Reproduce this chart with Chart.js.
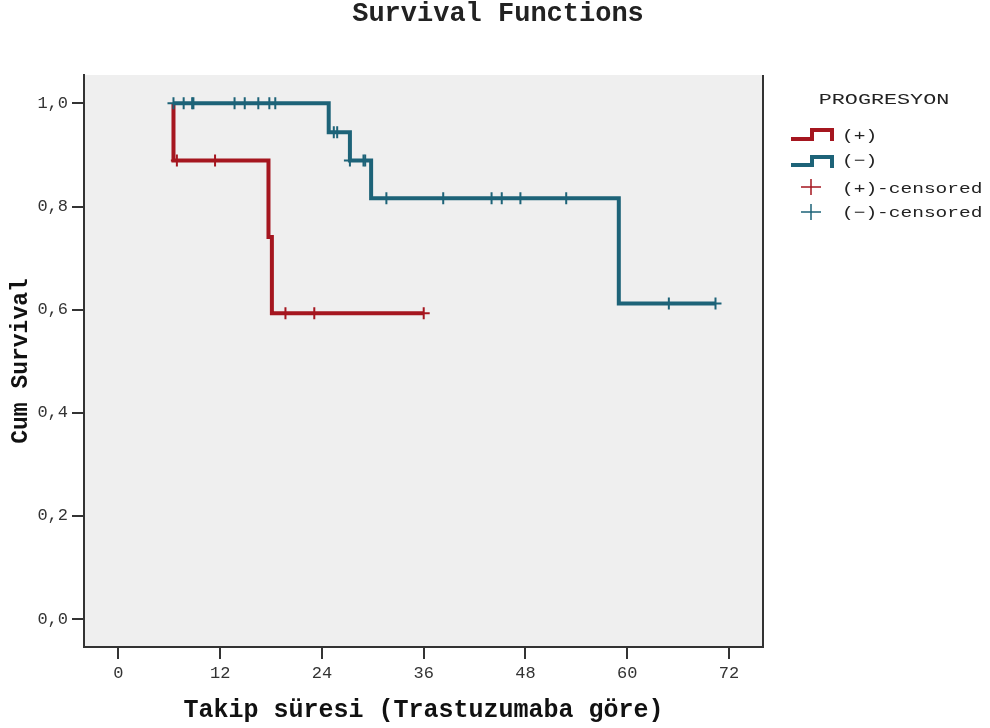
<!DOCTYPE html>
<html>
<head>
<meta charset="utf-8">
<script src="https://cdn.jsdelivr.net/npm/chart.js@4"></script>
<style>
  html, body { margin: 0; padding: 0; background: #fff; }
  #wrap { width: 990px; height: 728px; position: relative; }
</style>
</head>
<body>
<div id="wrap"><canvas id="km"></canvas></div>
<script>
// Kaplan-Meier steps, PROGRESYON (+)
const redStepTimes = [6.5, 6.5, 17.7, 18.1, 36.0];
const redStepSurv = [1.0, 0.889, 0.741, 0.593, 0.593];
const redCensTimes = [6.9, 11.4, 19.7, 23.1, 36.0];
const redCensSurv = [0.889, 0.889, 0.593, 0.593, 0.593];

// PROGRESYON (-)
const blueStepTimes = [6.5, 24.8, 27.3, 29.8, 59.0, 70.4];
const blueStepSurv = [1.0, 0.944, 0.889, 0.816, 0.612, 0.612];
const blueCensTimes = [6.5, 7.7, 8.7, 8.85, 13.7, 14.9, 16.5, 17.8, 18.5, 25.4, 25.8, 27.3, 28.9, 29.1,
  31.6, 38.3, 44.0, 45.2, 47.4, 52.8, 64.9, 70.4];
const blueCensSurv = [1.0, 1.0, 1.0, 1.0, 1.0, 1.0, 1.0, 1.0, 1.0, 0.944, 0.944, 0.889, 0.889, 0.889,
  0.816, 0.816, 0.816, 0.816, 0.816, 0.816, 0.612, 0.612];

const xTicks = [0, 12, 24, 36, 48, 60, 72];
const yTicks = [0, 0.2, 0.4, 0.6, 0.8, 1.0];
const yTickLabels = ['0,0', '0,2', '0,4', '0,6', '0,8', '1,0'];

const legendTitle = 'PROGRESYON';
const legendNames = ['(+)', '(\u2212)', '(+)-censored', '(\u2212)-censored'];

const RED = '#a5161f';
const BLUE = '#1d6378';
const MONO = '"Liberation Mono", "DejaVu Sans Mono", monospace';

const toPts = (xs, ys) => xs.map((x, i) => ({ x: x, y: ys[i] }));

// wide text, like the old SPSS raster fonts
function wideText(ctx, text, x, y, font, sx, align) {
  ctx.save();
  ctx.font = font;
  ctx.fillStyle = '#222';
  ctx.textBaseline = 'middle';
  ctx.textAlign = align;
  ctx.translate(x, y);
  ctx.scale(sx, 1);
  ctx.fillText(text, 0, 0);
  ctx.restore();
}

const framePlugin = {
  id: 'frame',
  beforeDraw(chart) {
    const { ctx, chartArea: a } = chart;
    ctx.save();
    ctx.fillStyle = '#efefef';
    ctx.fillRect(a.left, a.top, a.right - a.left, a.bottom - a.top);
    ctx.strokeStyle = '#333';
    ctx.lineWidth = 2;
    ctx.beginPath();
    ctx.moveTo(a.right, a.top);
    ctx.lineTo(a.right, a.bottom);
    ctx.stroke();
    ctx.restore();
  },
  afterDraw(chart) {
    const ctx = chart.ctx;
    wideText(ctx, 'Survival Functions', 498, 14, 'bold 27px ' + MONO, 1.0, 'center');

    // legend
    wideText(ctx, legendTitle, 884, 100, '15px ' + MONO, 1.45, 'center');
    const steps = [[RED, 139, 130], [BLUE, 165, 157]];
    ctx.save();
    ctx.lineWidth = 4;
    ctx.lineJoin = 'miter';
    steps.forEach(([c, lo, hi]) => {
      ctx.strokeStyle = c;
      ctx.beginPath();
      ctx.moveTo(791, lo);
      ctx.lineTo(812, lo);
      ctx.lineTo(812, hi);
      ctx.lineTo(832, hi);
      ctx.lineTo(832, hi + 11);
      ctx.stroke();
    });
    ctx.lineWidth = 1.5;
    [[RED, 187], [BLUE, 212]].forEach(([c, cy]) => {
      ctx.strokeStyle = c;
      ctx.beginPath();
      ctx.moveTo(801, cy);
      ctx.lineTo(821, cy);
      ctx.moveTo(811, cy - 8);
      ctx.lineTo(811, cy + 8);
      ctx.stroke();
    });
    ctx.restore();
    const ys = [136, 161, 189, 213];
    legendNames.forEach((t, i) => wideText(ctx, t, 842, ys[i], '15px ' + MONO, 1.3, 'left'));
  }
};

new Chart(document.getElementById('km'), {
  type: 'line',
  data: {
    datasets: [
      {
        label: '(-)', data: toPts(blueStepTimes, blueStepSurv), stepped: 'before',
        borderColor: BLUE, borderWidth: 4, pointRadius: 0, fill: false,
        borderJoinStyle: 'miter', order: 1
      },
      {
        label: '(+)', data: toPts(redStepTimes, redStepSurv), stepped: 'before',
        borderColor: RED, borderWidth: 4, pointRadius: 0, fill: false,
        borderJoinStyle: 'miter', order: 2
      },
      {
        label: '(+)-censored', data: toPts(redCensTimes, redCensSurv), showLine: false,
        pointStyle: 'cross', pointRadius: 6, borderColor: RED, borderWidth: 2, order: 0
      },
      {
        label: '(-)-censored', data: toPts(blueCensTimes, blueCensSurv), showLine: false,
        pointStyle: 'cross', pointRadius: 6, borderColor: BLUE, borderWidth: 2, order: 0
      }
    ]
  },
  options: {
    responsive: true,
    maintainAspectRatio: false,
    animation: false,
    events: [],
    layout: { padding: { left: 0, right: 227, top: 75, bottom: 0 } },
    scales: {
      x: {
        type: 'linear',
        min: -4.05,
        max: 76,
        afterBuildTicks: (s) => { s.ticks = xTicks.map(v => ({ value: v })); },
        afterFit: (s) => { s.height = 81; },
        grid: { display: true, drawOnChartArea: false, drawTicks: true, tickLength: 12, color: '#333', lineWidth: 2 },
        border: { display: true, color: '#333', width: 2 },
        ticks: { color: '#333', padding: 4, font: { family: MONO, size: 17 }, callback: (v) => String(v) },
        title: {
          display: true, text: 'Takip süresi (Trastuzumaba göre)', color: '#111',
          font: { family: MONO, size: 25, weight: 'bold' }, padding: { top: 0, bottom: 2 }
        }
      },
      y: {
        type: 'linear',
        min: -0.054,
        max: 1.055,
        afterBuildTicks: (s) => { s.ticks = yTicks.map(v => ({ value: v })); },
        afterFit: (s) => { s.width = 84; },
        grid: { display: true, drawOnChartArea: false, drawTicks: true, tickLength: 12, color: '#333', lineWidth: 2 },
        border: { display: true, color: '#333', width: 2 },
        ticks: {
          color: '#333', padding: 4, font: { family: MONO, size: 17 },
          callback: (v) => yTickLabels[yTicks.findIndex(t => Math.abs(t - v) < 1e-6)]
        },
        title: {
          display: true, text: 'Cum Survival', color: '#111',
          font: { family: MONO, size: 23, weight: 'bold' }, padding: { top: 7, bottom: 0 }
        }
      }
    },
    plugins: {
      legend: { display: false },
      tooltip: { enabled: false },
      title: { display: false }
    }
  },
  plugins: [framePlugin]
});
</script>
</body>
</html>
